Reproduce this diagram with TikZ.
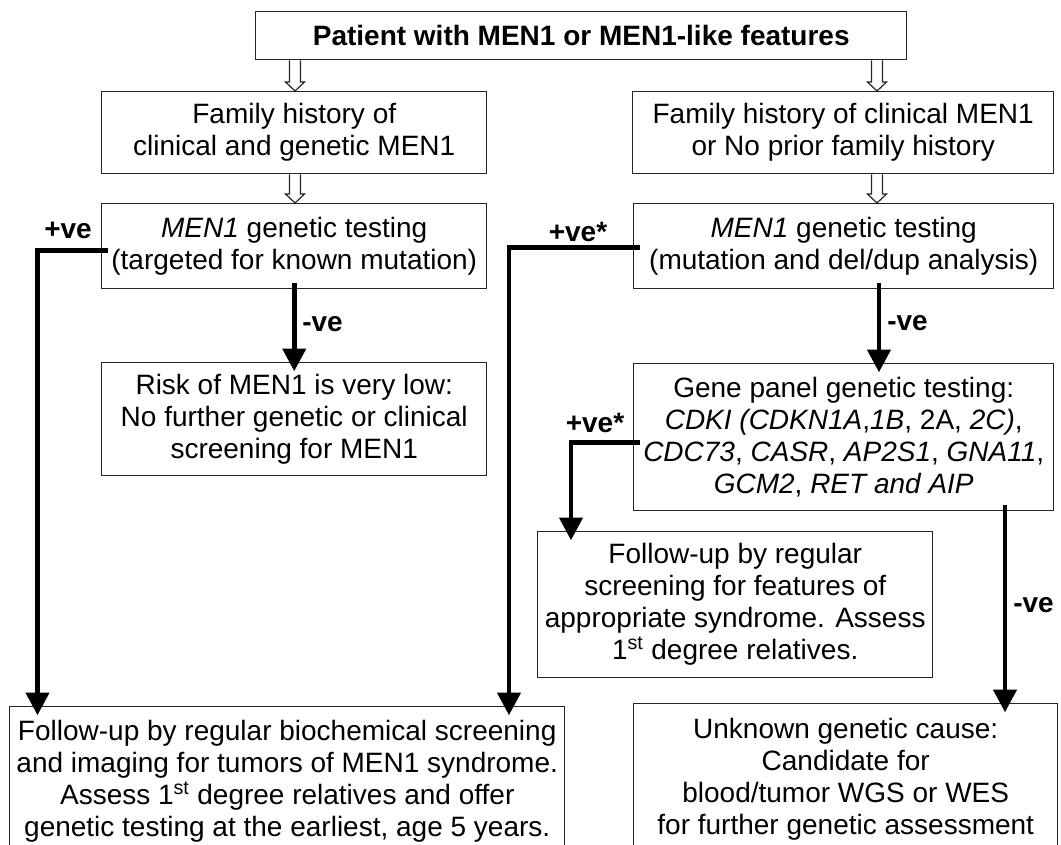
\documentclass[tikz,border=0pt]{standalone}
\usepackage{fontspec}
\setmainfont{Liberation Sans}
\usetikzlibrary{arrows.meta,positioning,calc}

\newcommand{\boxfont}{\fontsize{21pt}{24pt}\selectfont}
% open block arrow pointing down from #1 to #2
\newcommand{\hollowarrow}[2]{%
  \draw[hollow] ($(#1)+(-5.5,0)$) -- ($(#2)+(-5.5,-9)$) -- ($(#2)+(-9.5,-9)$) -- (#2)
    -- ($(#2)+(9.5,-9)$) -- ($(#2)+(5.5,-9)$) -- ($(#1)+(5.5,0)$);}

\begin{document}
\begin{tikzpicture}[
    x=0.75pt, y=-0.75pt,
    box/.style={rectangle, draw=black!85, line width=1.1pt, fill=white, inner sep=0pt,
                align=center, anchor=north west, font=\boxfont},
    lbl/.style={font=\boxfont\bfseries, inner sep=0pt},
    flow/.style={line width=3.7pt, -{Triangle[width=17pt,length=17pt]},
                 shorten >=-7pt, shorten <=-5pt},
    hollow/.style={draw=black!85, line width=0.9pt, fill=white}
]
\useasboundingbox (0,0) rectangle (1061,845);
\clip (0,0) rectangle (1061,845);

\node[box, minimum width=488.25pt, minimum height=36pt] (pat) at (255,11)
  {\bfseries Patient with MEN1 or MEN1-like features};
\node[box, minimum width=288.75pt, minimum height=61.5pt] (famL) at (101,91)
  {Family history of\\clinical and genetic MEN1};
\node[box, minimum width=315.75pt, minimum height=61.5pt] (famR) at (632,91)
  {Family history of clinical MEN1\\or No prior family history};
\node[box, minimum width=288.75pt, minimum height=63.75pt] (testL) at (101,203)
  {\textit{MEN1} genetic testing\\(targeted for known mutation)};
\node[box, minimum width=315pt, minimum height=63.75pt] (testR) at (633,203)
  {\textit{MEN1} genetic testing\\(mutation and del/dup analysis)};
\node[box, minimum width=288.75pt, minimum height=84.75pt] (risk) at (101,362)
  {Risk of MEN1 is very low:\\No further genetic or clinical\\screening for MEN1};
\node[box, minimum width=315pt, minimum height=110.25pt] (panel) at (633,363)
  {Gene panel genetic testing:\\
   \textit{CDKI (CDKN1A},\textit{1B}, 2A, \textit{2C)},\\
   \textit{CDC73}, \textit{CASR}, \textit{AP2S1}, \textit{GNA11},\\
   \textit{GCM2}, \textit{RET and AIP}};
\node[box, minimum width=296.25pt, minimum height=109.5pt] (synd) at (537,531)
  {Follow-up by regular\\screening for features of\\appropriate syndrome. Assess\\
   1\textsuperscript{st} degree relatives.};
\node[box, minimum width=416.25pt, minimum height=112pt] (men) at (9,706)
  {Follow-up by regular biochemical screening\\and imaging for tumors of MEN1 syndrome.\\
   Assess 1\textsuperscript{st} degree relatives and offer\\genetic testing at the earliest, age 5 years.};
\node[box, minimum width=318pt, minimum height=113pt] (unk) at (633,703)
  {Unknown genetic cause:\\Candidate for\\blood/tumor WGS or WES\\for further genetic assessment};

% columns of the connectors
\coordinate (hl) at (295,0);
\coordinate (hr) at (877,0);
\coordinate (posL) at (37.5,0);
\coordinate (posM) at (509,0);
\coordinate (posP) at (571,0);
\coordinate (negR) at (879,0);
\coordinate (negP) at (1005,0);

\hollowarrow{pat.south -| hl}{famL.north -| hl}
\hollowarrow{pat.south -| hr}{famR.north -| hr}
\hollowarrow{famL.south -| hl}{testL.north -| hl}
\hollowarrow{famR.south -| hr}{testR.north -| hr}

\draw[flow] (testL.south) -- (risk.north);
\draw[flow] ([yshift=-3pt]testL.west) -| (posL |- men.north);
\draw[flow] ([yshift=-1pt]testR.west) -| (posM |- men.north);
\draw[flow] (testR.south -| negR) -- (panel.north -| negR);
\draw[flow] ([yshift=-4pt]panel.west) -| (posP |- synd.north);
\draw[flow] (panel.south -| negP) -- (unk.north -| negP);

\node[lbl] (pL) at (68,230) {+ve};
\node[lbl, anchor=west] (nL) at (302,324) {-ve};
\node[lbl] (pR) at (578,232) {+ve*};
\node[lbl, anchor=west] (nR) at (887,323) {-ve};
\node[lbl] (pP) at (595,423) {+ve*};
\node[lbl, anchor=west] (nP) at (1013,605) {-ve};
\end{tikzpicture}
\end{document}
